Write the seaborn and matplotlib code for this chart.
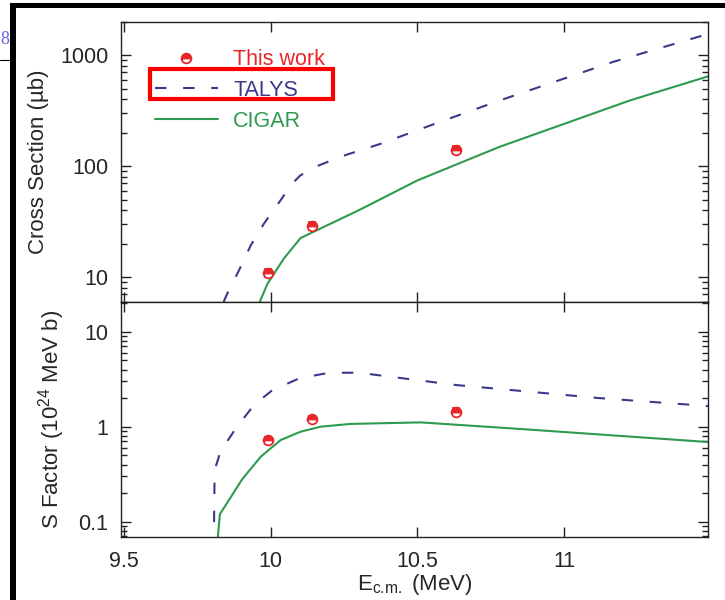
import numpy as np
import pandas as pd
import matplotlib
matplotlib.use("Agg")
import matplotlib.pyplot as plt
import seaborn as sns
from matplotlib.lines import Line2D
from matplotlib.patches import Rectangle
from matplotlib.ticker import LogLocator, FuncFormatter, NullFormatter, FixedLocator

# ---------------- data ----------------
E_exp = [9.99, 10.14, 10.63]
sigma_exp = [10.9, 28.9, 140.0]
sigma_err = [0.9, 2.4, 12.0]
S_exp = [0.72, 1.21, 1.44]
S_err = [0.06, 0.10, 0.12]

talys_sigma_E = [9.80, 9.84, 9.852, 9.892, 9.932, 9.977, 10.034, 10.07, 10.10, 10.15, 10.24, 10.375, 10.562, 10.78, 11.168, 11.49]
talys_sigma = [3.5, 6.0, 7.1, 11.5, 19.3, 30.3, 49.3, 68, 82, 98, 122, 159, 242, 390, 871, 1550]

cigar_sigma_E = [9.94, 9.963, 9.989, 10.045, 10.102, 10.30, 10.5, 10.778, 11.226, 11.493]
cigar_sigma = [4.5, 6.0, 8.7, 14.7, 22.5, 40, 74.3, 148.5, 392, 647]

talys_S_E = [9.806, 9.809, 9.829, 9.881, 9.943, 10.006, 10.10, 10.20, 10.30, 10.63, 11.12, 11.49]
talys_S = [0.05, 0.35, 0.546, 0.96, 1.69, 2.43, 3.25, 3.7, 3.7, 2.75, 2.0, 1.65]

cigar_S_E = [9.816, 9.827, 9.903, 9.966, 10.034, 10.102, 10.17, 10.272, 10.511, 10.852, 11.49]
cigar_S = [0.05, 0.12, 0.28, 0.483, 0.724, 0.886, 1.0, 1.07, 1.11, 0.946, 0.69]

labels = ["This work", "TALYS", "CIGAR"]
x_ticks = [9.5, 10, 10.5, 11]
x_ticklabels = ["9.5", "10", "10.5", "11"]

# ---------------- style ----------------
sns.set_theme(style="ticks")
plt.rcParams["font.family"] = ["Liberation Sans", "DejaVu Sans"]
plt.rcParams["mathtext.fontset"] = "custom"
plt.rcParams["mathtext.rm"] = "Liberation Sans"
plt.rcParams["mathtext.it"] = "Liberation Sans:italic"

RED = "#e8262a"
BLUE = "#3a3a8c"
GREEN = "#2e9a50"
DASH = (5.5, 8)

fig = plt.figure(figsize=(7.25, 6.0), dpi=100)
L, R = 121 / 725, 708 / 725
ax1 = fig.add_axes([L, 1 - 301.7 / 600, R - L, 280 / 600])
ax2 = fig.add_axes([L, 1 - 536.7 / 600, R - L, 235 / 600])

def draw(ax, tE, tV, cE, cV, yexp, yerr):
    sns.lineplot(x=tE, y=tV, ax=ax, color=BLUE, lw=1.5, sort=False, estimator=None)
    ax.lines[-1].set_dashes(DASH)
    sns.lineplot(x=cE, y=cV, ax=ax, color=GREEN, lw=1.5, sort=False, estimator=None)
    ax.errorbar(E_exp, yexp, yerr=yerr, xerr=0.006, fmt="o", ms=7, fillstyle="top",
                mfc=RED, mfcalt="white", mec=RED, mew=1.3, ecolor=RED,
                elinewidth=1.3, capsize=3, capthick=1.3, zorder=5)

draw(ax1, talys_sigma_E, talys_sigma, cigar_sigma_E, cigar_sigma, sigma_exp, sigma_err)
draw(ax2, talys_S_E, talys_S, cigar_S_E, cigar_S, S_exp, S_err)

def fmt(v, pos):
    if v >= 1:
        return "%d" % round(v)
    return ("%g" % v)

for ax, lim in ((ax1, (6, 2000)), (ax2, (0.0695, 20.7))):
    ax.set_yscale("log")
    ax.set_xlim(9.49, 11.49)
    ax.set_ylim(*lim)
    ax.yaxis.set_major_locator(LogLocator(base=10, numticks=10))
    ax.yaxis.set_minor_locator(LogLocator(base=10, subs=np.arange(2, 10), numticks=20))
    ax.yaxis.set_major_formatter(FuncFormatter(fmt))
    ax.yaxis.set_minor_formatter(NullFormatter())
    ax.xaxis.set_major_locator(FixedLocator(x_ticks))
    ax.tick_params(which="both", direction="in", top=True, right=True,
                   color="#222222", width=1.0)
    ax.tick_params(which="major", length=7, labelsize=15.5, pad=9)
    ax.tick_params(which="minor", length=4)
    ax.tick_params(axis="x", which="major", pad=10)
    for sp in ax.spines.values():
        sp.set_linewidth(1.0)
        sp.set_color("#222222")
    ax.set_xlabel("")

ax1.set_xticklabels([])
ax2.set_xticklabels(x_ticklabels)
ax1.set_ylabel("Cross Section (µb)", fontsize=16, labelpad=8)
ax2.set_ylabel(r"S Factor (10$^{24}$ MeV b)", fontsize=16, labelpad=8)
ax2.set_xlabel(r"E$_{\mathrm{c.\!m.}}$ (MeV)", fontsize=16, labelpad=0)

# legend
h_exp = Line2D([], [], ls="none", marker="o", ms=7, fillstyle="top", mfc=RED,
               mfcalt="white", mec=RED, mew=1.3)
h_t = Line2D([], [], color=BLUE, lw=1.5, dashes=DASH)
h_c = Line2D([], [], color=GREEN, lw=1.5)
leg = ax1.legend([h_exp, h_t, h_c], labels, loc="upper left", frameon=False,
                 fontsize=15.5, handlelength=2.95, handletextpad=0.7,
                 labelspacing=0.45, borderaxespad=0,
                 bbox_to_anchor=(25 / 587, 1 - 19 / 280))
for t, c in zip(leg.get_texts(), [RED, BLUE, GREEN]):
    t.set_color(c)

# highlight box and page frame (screenshot decorations)
def px_rect(x0, y0, x1, y1, **kw):
    fig.add_artist(Rectangle((x0 / 725, 1 - y1 / 600), (x1 - x0) / 725, (y1 - y0) / 600,
                             transform=fig.transFigure, **kw))

px_rect(150.3, 68.7, 333, 99, fill=False, ec="#ff0000", lw=3.0, zorder=10)
px_rect(10, 3, 725, 7.5, fc="black", ec="none", zorder=10)
px_rect(10, 3, 15.5, 600, fc="black", ec="none", zorder=10)
fig.add_artist(Line2D([0, 10 / 725], [1 - 60 / 600, 1 - 60 / 600], color="black", lw=0.8,
                      transform=fig.transFigure))
fig.text(0.5 / 725, 1 - 44 / 600, "8", color="#6666dd", fontsize=13,
         family=["Liberation Serif", "DejaVu Serif"])

fig.savefig("out.png", dpi=100)
